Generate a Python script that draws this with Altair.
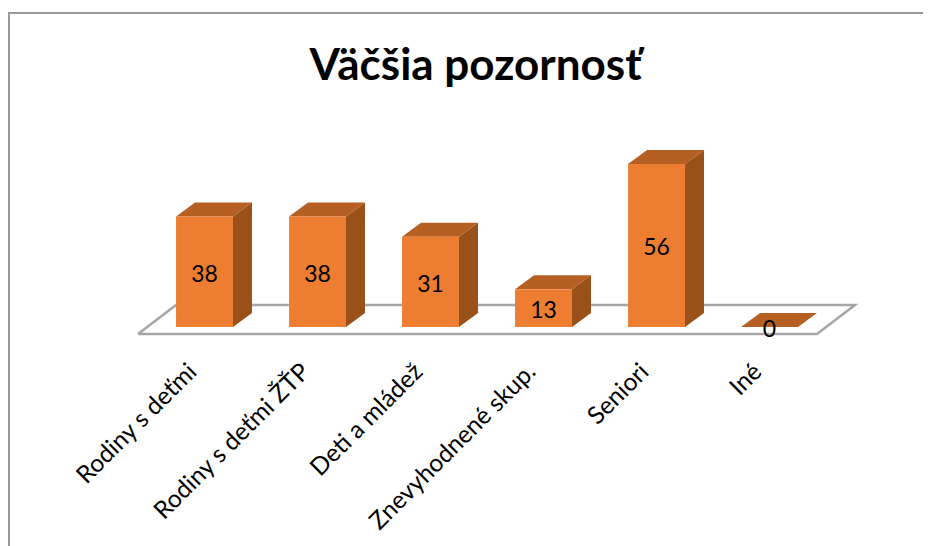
import altair as alt
import pandas as pd

categories = ["Rodiny s deťmi", "Rodiny s deťmi ŽŤP", "Deti a mládež", "Znevyhodnené skup.", "Seniori", "Iné"]
values = [38, 38, 31, 13, 56, 0]
title_text = "Väčšia pozornosť"

HALF = 0.252   # half bar width, in category units
DX = 0.168     # depth, in category units
DY = 4.81      # depth, in value units
FONT = "Lato"
BORDER = "#999999"

x_s = alt.Scale(domain=[-1.739, 6.358], nice=False, zero=False)
y_s = alt.Scale(domain=[-75.26, 109.6], nice=False, zero=False)
X = lambda f: alt.X(f, type="quantitative", scale=x_s, axis=None)
Y = lambda f: alt.Y(f, type="quantitative", scale=y_s, axis=None)

bars = pd.DataFrame({"i": range(len(values)), "v": values, "cat": categories})
bars["x0"] = bars.i - HALF
bars["x1"] = bars.i + HALF
bars["v_label"] = bars.v / 2
bars.loc[bars.v == 0, "v_label"] = 0.0
bars["lx"] = bars.i - 0.1
bars["ly"] = -14.2

rows_side, rows_top = [], []
for i, v in enumerate(values):
    if v > 0:
        rows_side += [
            {"i": i, "x": i + HALF, "lo": 0, "hi": v},
            {"i": i, "x": i + HALF + DX, "lo": DY, "hi": v + DY},
        ]
    rows_top += [
        {"i": i, "x": i - HALF, "lo": v, "hi": v},
        {"i": i, "x": i - HALF + DX, "lo": v, "hi": v + DY},
        {"i": i, "x": i + HALF, "lo": v, "hi": v + DY},
        {"i": i, "x": i + HALF + DX, "lo": v + DY, "hi": v + DY},
    ]
side = pd.DataFrame(rows_side)
top = pd.DataFrame(rows_top)

fx = [-0.588, 5.42, 5.756, -0.252, -0.588]
fy = [-2.4, -2.4, 7.56, 7.56, -2.4]
floor = pd.DataFrame({"x": fx, "y": fy, "o": range(5)})

border_left = alt.Chart(pd.DataFrame({"a": [0]})).mark_rule(color=BORDER, strokeWidth=2).encode(
    x=alt.value(1), y=alt.value(5), y2=alt.value(538))
border_top = alt.Chart(pd.DataFrame({"a": [0]})).mark_rule(color=BORDER, strokeWidth=2).encode(
    y=alt.value(5), x=alt.value(0), x2=alt.value(915))
floor_l = alt.Chart(floor).mark_line(color="#a6a6a6", strokeWidth=2.5, strokeJoin="miter").encode(
    x=X("x"), y=Y("y"), order="o:Q")
side_l = alt.Chart(side).mark_area(color="#9a5119").encode(
    x=X("x"), y=Y("lo"), y2="hi", detail="i:N")
top_l = alt.Chart(top).mark_area(color="#b55f23").encode(
    x=X("x"), y=Y("lo"), y2="hi", detail="i:N")
front_l = alt.Chart(bars[bars.v > 0]).mark_bar(color="#ed7d31").encode(
    x=X("x0"), x2="x1", y=Y("v"), y2=alt.datum(0))
val_l = alt.Chart(bars).mark_text(font=FONT, fontSize=23, color="#000000", baseline="middle", dy=3).encode(
    x=X("i"), y=Y("v_label"), text="v:Q")
cat_l = alt.Chart(bars).mark_text(font=FONT, fontSize=24.5, color="#000000", angle=315, align="right", baseline="middle").encode(
    x=X("lx"), y=Y("ly"), text="cat:N")

chart = alt.layer(border_left, border_top, floor_l, side_l, top_l, front_l, val_l, cat_l).properties(
    width=915, height=538, padding=0,
    autosize=alt.AutoSizeParams(type="none"),
    title=alt.Title(title_text, font=FONT, fontSize=44, fontWeight="bold", color="#000000",
                    anchor="middle", dy=120, baseline="alphabetic", dx=10),
).configure_view(stroke=None)

chart.save("out.html", embed_options={"renderer": "svg", "actions": False})
